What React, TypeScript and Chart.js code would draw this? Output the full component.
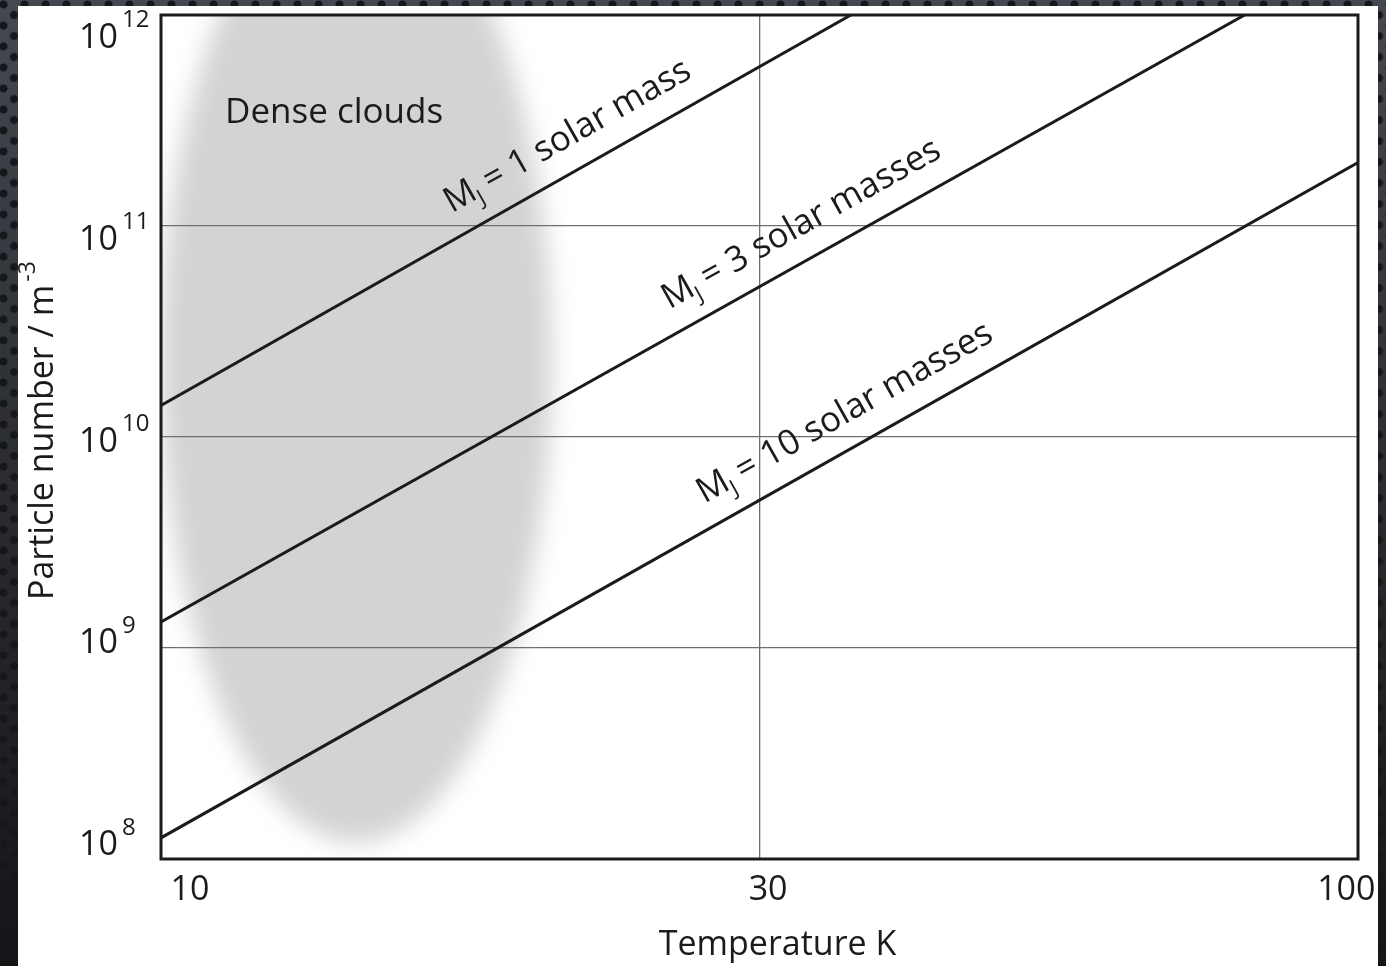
import React, { useEffect, useRef } from 'react';
import { Chart, registerables } from 'chart.js';

Chart.register(...registerables);

// ---- data ----
const temperatureMin = 10;
const temperatureMax = 100;
const densityMin = 1e8;
const densityMax = 1e12;

const xTickValues = [10, 31.62, 100];
const xTickLabels = ['10', '30', '100'];
const yTickValues = [1e8, 1e9, 1e10, 1e11, 1e12];
const yTickExponents = ['8', '9', '10', '11', '12'];

const seriesMass = ['1', '3', '10'];
const seriesUnit = ['solar mass', 'solar masses', 'solar masses'];

const line1Temp = [10, 37.7];
const line1Density = [1.41e10, 1e12];
const line2Temp = [10, 80.4];
const line2Density = [1.33e9, 1e12];
const line3Temp = [10, 100];
const line3Density = [1.26e8, 2.0e11];

const labelStartTemp = [17.9, 27.2, 29.1];

// dense cloud region (bounding box in data units)
const cloudTemp = [10.0, 21.2];
const cloudDensity = [1.2e8, 4.5e12];

const xTitle = 'Temperature K';
const yTitle = 'Particle number / m';
const yTitleSup = '-3';
const cloudLabel = 'Dense clouds';

const FONT = '"Open Sans", "Noto Sans", sans-serif';
const INK = '#1b1b1b';

const lineTemps = [line1Temp, line2Temp, line3Temp];
const lineDensities = [line1Density, line2Density, line3Density];

function toPoints(t: number[], n: number[]) {
  return t.map((v, i) => ({ x: v, y: n[i] }));
}

const overlayPlugin = {
  id: 'overlay',
  beforeDraw(chart: any) {
    const { ctx, chartArea, scales } = chart;
    const xs = scales.x;
    const ys = scales.y;
    const x0 = xs.getPixelForValue(cloudTemp[0]);
    const x1 = xs.getPixelForValue(cloudTemp[1]);
    const y0 = ys.getPixelForValue(cloudDensity[0]);
    const y1 = ys.getPixelForValue(cloudDensity[1]);
    ctx.save();
    ctx.beginPath();
    ctx.rect(chartArea.left, chartArea.top, chartArea.right - chartArea.left, chartArea.bottom - chartArea.top);
    ctx.clip();
    ctx.filter = 'blur(12px)';
    ctx.fillStyle = '#d3d3d3';
    ctx.beginPath();
    ctx.ellipse((x0 + x1) / 2, (y0 + y1) / 2, Math.abs(x1 - x0) / 2, Math.abs(y1 - y0) / 2, 0, 0, Math.PI * 2);
    ctx.fill();
    ctx.restore();
  },
  afterDraw(chart: any) {
    const { ctx, chartArea, scales } = chart;
    const xs = scales.x;
    const ys = scales.y;
    const { left, right, top, bottom } = chartArea;
    ctx.save();
    ctx.fillStyle = INK;

    // y tick labels 10^n
    yTickValues.forEach((v, i) => {
      const gy = ys.getPixelForValue(v);
      const cy = top + 23 + (gy - top) * 0.957;
      const rx = left - 43;
      ctx.font = `34px ${FONT}`;
      ctx.textAlign = 'right';
      ctx.textBaseline = 'middle';
      ctx.fillText('10', rx, cy);
      ctx.font = `24px ${FONT}`;
      ctx.textAlign = 'left';
      ctx.fillText(yTickExponents[i], rx + 4, cy - 18);
    });

    // x tick labels
    xTickValues.forEach((v, i) => {
      const gx = xs.getPixelForValue(v);
      const cx = left + 29 + (gx - left) * 0.966;
      ctx.font = `34px ${FONT}`;
      ctx.textAlign = 'center';
      ctx.textBaseline = 'middle';
      ctx.fillText(xTickLabels[i], cx, bottom + 31);
    });

    // x title
    ctx.font = `34px ${FONT}`;
    ctx.textAlign = 'center';
    ctx.textBaseline = 'alphabetic';
    ctx.fillText(xTitle, (left + right) / 2 + 18, bottom + 96);

    // y title
    ctx.save();
    ctx.translate(left - 108, (top + bottom) / 2 + 163);
    ctx.rotate(-Math.PI / 2);
    ctx.font = `34px ${FONT}`;
    ctx.textAlign = 'left';
    ctx.textBaseline = 'alphabetic';
    ctx.fillText(yTitle, 0, 0);
    const w = ctx.measureText(yTitle).width;
    ctx.font = `23px ${FONT}`;
    ctx.fillText(yTitleSup, w + 3, -18);
    ctx.restore();

    // dense clouds label
    ctx.font = `35px ${FONT}`;
    ctx.textAlign = 'left';
    ctx.textBaseline = 'alphabetic';
    ctx.fillText(cloudLabel, left + 64, top + 108);

    // line labels
    lineTemps.forEach((t, i) => {
      const n = lineDensities[i];
      const px0 = xs.getPixelForValue(t[0]);
      const py0 = ys.getPixelForValue(n[0]);
      const px1 = xs.getPixelForValue(t[1]);
      const py1 = ys.getPixelForValue(n[1]);
      const theta = Math.atan2(py1 - py0, px1 - px0);
      const slope = (Math.log10(n[1]) - Math.log10(n[0])) / (Math.log10(t[1]) - Math.log10(t[0]));
      const ts = labelStartTemp[i];
      const ns = Math.pow(10, Math.log10(n[0]) + (Math.log10(ts) - Math.log10(t[0])) * slope);
      const lx = xs.getPixelForValue(ts);
      const ly = ys.getPixelForValue(ns);
      const d = 24;
      const sx = lx + d * Math.sin(theta);
      const sy = ly - d * Math.cos(theta);
      ctx.save();
      ctx.translate(sx, sy);
      ctx.rotate(theta);
      ctx.textAlign = 'left';
      ctx.textBaseline = 'alphabetic';
      ctx.font = `35px ${FONT}`;
      ctx.fillText('M', 0, 0);
      let x = ctx.measureText('M').width;
      ctx.font = `22px ${FONT}`;
      ctx.fillText('J', x - 1, 8);
      x += ctx.measureText('J').width;
      ctx.font = `35px ${FONT}`;
      ctx.fillText(` = ${seriesMass[i]} ${seriesUnit[i]}`, x - 2, 0);
      ctx.restore();
    });

    // frame
    ctx.strokeStyle = INK;
    ctx.lineWidth = 3;
    ctx.strokeRect(left, top, right - left, bottom - top);
    ctx.restore();
  },
};

export default function App() {
  const ref = useRef<HTMLCanvasElement | null>(null);

  useEffect(() => {
    if (!ref.current) return;
    const chart = new Chart(ref.current, {
      type: 'line',
      data: {
        datasets: lineTemps.map((t, i) => ({
          label: `M_J = ${seriesMass[i]} ${seriesUnit[i]}`,
          data: toPoints(t, lineDensities[i]),
          borderColor: INK,
          borderWidth: 3,
          pointRadius: 0,
          tension: 0,
          fill: false,
        })),
      },
      options: {
        animation: false,
        responsive: false,
        maintainAspectRatio: false,
        layout: { padding: { left: 161, top: 15, right: 28, bottom: 107 } },
        plugins: { legend: { display: false }, tooltip: { enabled: false } },
        scales: {
          x: {
            type: 'logarithmic',
            min: temperatureMin,
            max: temperatureMax,
            afterBuildTicks: (s: any) => {
              s.ticks = xTickValues.map((v) => ({ value: v }));
            },
            ticks: { display: false },
            grid: { color: '#6f6f6f', lineWidth: 1.3, drawTicks: false },
            border: { display: false },
          },
          y: {
            type: 'logarithmic',
            min: densityMin,
            max: densityMax,
            afterBuildTicks: (s: any) => {
              s.ticks = yTickValues.map((v) => ({ value: v }));
            },
            ticks: { display: false },
            grid: { color: '#6f6f6f', lineWidth: 1.3, drawTicks: false },
            border: { display: false },
          },
        },
      },
      plugins: [overlayPlugin],
    } as any);
    return () => chart.destroy();
  }, []);

  return (
    <div
      style={{
        position: 'fixed',
        left: 0,
        top: 0,
        width: 1386,
        height: 966,
        overflow: 'hidden',
        backgroundColor: '#2c2f35',
        backgroundImage:
          'radial-gradient(circle, #15171a 0px, #15171a 3.5px, rgba(0,0,0,0) 4.5px), radial-gradient(circle, #15171a 0px, #15171a 3.5px, rgba(0,0,0,0) 4.5px), linear-gradient(180deg, #454850 0%, #2a2c31 50%, #141517 100%)',
        backgroundSize: '21px 21px, 21px 21px, 100% 100%',
        backgroundPosition: '-7px -6px, 3.5px 4.5px, 0 0',
      }}
    >
      <div
        style={{ position: 'absolute', left: 18, top: 6, width: 1360, height: 960, background: '#ffffff' }}
      />
      <canvas
        ref={ref}
        width={1386}
        height={966}
        style={{ position: 'absolute', left: 0, top: 0, width: 1386, height: 966 }}
      />
    </div>
  );
}
